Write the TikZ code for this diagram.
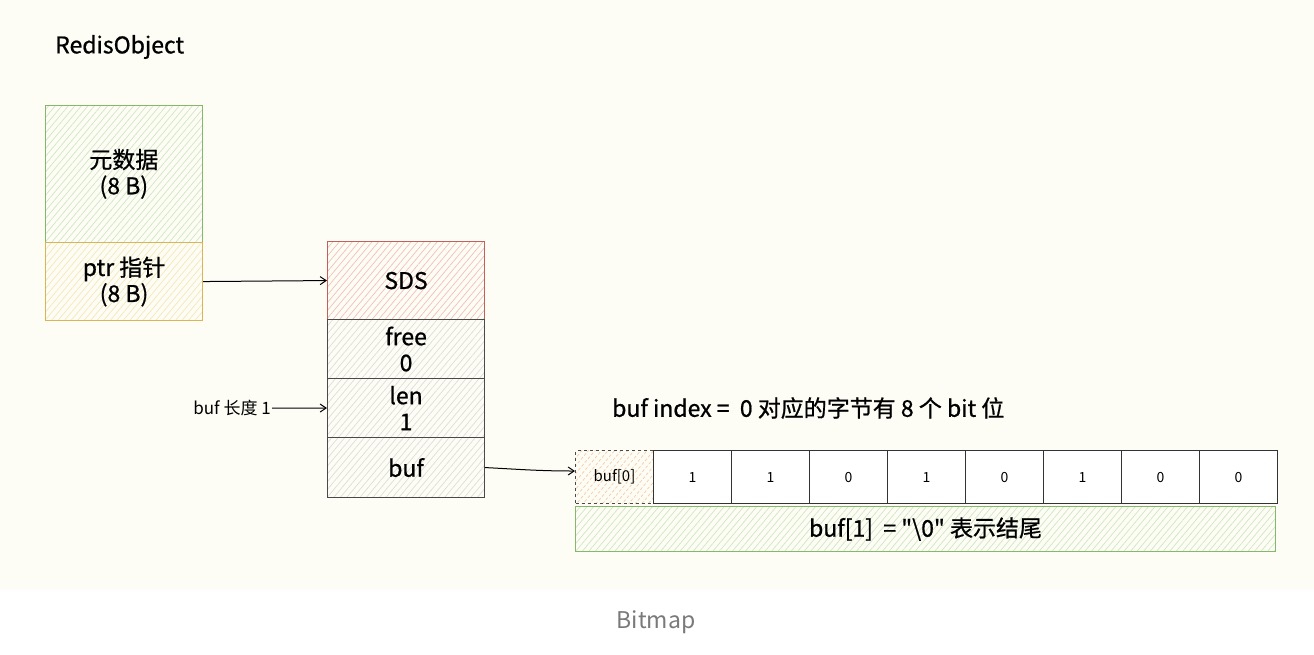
\documentclass[tikz,border=0pt]{standalone}
\usepackage{fontspec}
\setmainfont{Noto Sans CJK SC}[Ligatures=TeXOff, BoldFont={Noto Sans CJK SC}, BoldFeatures={FakeBold=0.8}]
\usetikzlibrary{patterns.meta,arrows.meta,calc}
\definecolor{cream}{HTML}{FDFDF5}
\definecolor{gborder}{HTML}{86B86A}
\definecolor{ghatch}{HTML}{CFE6C2}
\definecolor{yborder}{HTML}{D6B656}
\definecolor{yhatch}{HTML}{F6E7B8}
\definecolor{rborder}{HTML}{C2605C}
\definecolor{rhatch}{HTML}{F2BFBB}
\definecolor{kborder}{HTML}{4A4A4A}
\definecolor{khatch}{HTML}{DDDDDA}
\definecolor{ohatch}{HTML}{F7CBAA}
\definecolor{captiongray}{HTML}{7A7A7A}
\tikzset{
  hatch/.style={pattern={Lines[angle=50,distance=5pt,line width=0.7pt]},pattern color=#1},
  box/.style={draw, line width=1.1pt, minimum width=157pt, inner sep=0pt, anchor=north west,
    align=center, font=\fontsize{23}{26}\selectfont\bfseries},
  bitcell/.style={draw=black!80, line width=1pt, fill=white, minimum width=78pt, minimum height=53pt,
    inner sep=0pt, anchor=north west, font=\fontsize{14}{16}\selectfont},
  arr/.style={line width=1pt, -{Straight Barb[length=6pt,width=8pt,line width=1pt]}},
}
\begin{document}
\begin{tikzpicture}[x=1pt,y=-1pt]
\useasboundingbox (0,0) rectangle (1314,654);
\fill[cream] (0,0) rectangle (1314,590);
\fill[white] (0,590) rectangle (1314,654);

\node[anchor=west, inner sep=0pt, font=\fontsize{23}{26}\selectfont\bfseries] (title) at (55,47) {RedisObject};

\node[box, draw=gborder, hatch=ghatch, minimum height=137pt] (meta) at (45,105) {元数据\\(8 B)};
\node[box, draw=yborder, hatch=yhatch, minimum height=78pt] (ptr) at (45,242) {ptr 指针\\(8 B)};

\node[box, draw=rborder, hatch=rhatch, minimum height=78pt] (sds) at (327,241) {SDS};
\node[box, draw=kborder, hatch=khatch, minimum height=59pt] (free) at (327,319) {free\\0};
\node[box, draw=kborder, hatch=khatch, minimum height=59pt] (len) at (327,378) {len\\1};
\node[box, draw=kborder, hatch=khatch, minimum height=60pt] (buf) at (327,437) {buf};

\node[anchor=east, inner sep=1pt, font=\fontsize{17}{19}\selectfont] (buflen) at (272,408) {buf 长度 1};

\draw[arr] (ptr.east) -- (sds.west);
\draw[arr] (buflen.east) -- (len.west);

\node[anchor=west, inner sep=0pt, font=\fontsize{23}{26}\selectfont\bfseries] (idx) at (612,408) {buf index =\ \ 0 对应的字节有 8 个 bit 位};

\node[bitcell, dashed, hatch=ohatch, draw=kborder, font=\fontsize{15}{17}\selectfont] (b0) at (575,450) {buf[0]};
\foreach \v [count=\i] in {1,1,0,1,0,1,0,0} {
  \node[bitcell] (b\i) at (575+78*\i,450) {\v};
}
\coordinate (b0in) at ($(b0.west)+(0,-6)$);
\draw[arr] (buf.east) to[out=-3,in=180] (b0in);

\node[box, draw=gborder, hatch=ghatch, minimum width=700pt, minimum height=45pt] (buf1) at (575,506) {buf[1]\ \ = "\textbackslash 0" 表示结尾};

\node[text=captiongray, font=\fontsize{23}{26}\selectfont] (cap) at (656,622) {Bitmap};
\end{tikzpicture}
\end{document}
